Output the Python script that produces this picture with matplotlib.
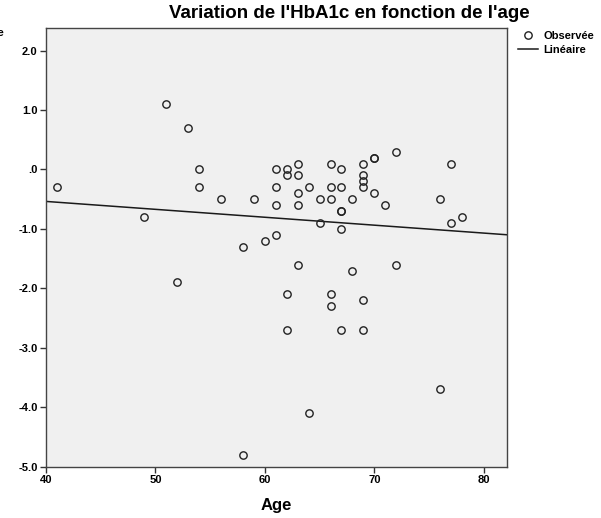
import numpy as np
import matplotlib
matplotlib.use("Agg")
import matplotlib.pyplot as plt
from matplotlib.lines import Line2D

plt.rcParams['font.family'] = ['Liberation Sans', 'DejaVu Sans']

ages = [41, 49, 51, 52, 53, 54, 54, 56, 58, 58, 59, 60, 61, 61, 61, 61,
        62, 62, 62, 62, 63, 63, 63, 63, 63, 64, 64, 65, 65, 66, 66, 66, 66, 66,
        67, 67, 67, 67, 67, 67, 68, 68, 69, 69, 69, 69, 69, 69, 70, 70, 70, 71,
        72, 72, 76, 76, 77, 77, 78]
variation = [-0.3, -0.8, 1.1, -1.9, 0.7, 0.0, -0.3, -0.5, -1.3, -4.8, -0.5, -1.2,
             0.0, -0.3, -0.6, -1.1, 0.0, -0.1, -2.1, -2.7, 0.1, -0.1, -0.4, -0.6, -1.6,
             -0.3, -4.1, -0.5, -0.9, 0.1, -0.3, -0.5, -2.1, -2.3,
             0.0, -0.3, -0.7, -0.7, -1.0, -2.7, -0.5, -1.7, 0.1, -0.1, -0.2, -0.3, -2.2, -2.7,
             0.2, 0.2, -0.4, -0.6, 0.3, -1.6, -0.5, -3.7, 0.1, -0.9, -0.8]

x_ticks = [40, 50, 60, 70, 80]
y_ticks = [2.0, 1.0, 0.0, -1.0, -2.0, -3.0, -4.0, -5.0]
y_tick_labels = ["2.0", "1.0", ".0", "-1.0", "-2.0", "-3.0", "-4.0", "-5.0"]

title = "Variation de l'HbA1c en fonction de l'age"
legend_labels = ["Observée", "Linéaire"]

fig = plt.figure(figsize=(6.01, 5.18), dpi=100)
ax = fig.add_axes([0.0765, 0.099, 0.7666, 0.847])
ax.set_facecolor('#f0f0f0')

xlim = (40, 82.1)
slope, intercept = np.polyfit(ages, variation, 1)
xs = np.array(xlim)
ax.plot(xs, intercept + slope * xs, color='#1a1a1a', lw=1.1, zorder=2)
ax.plot(ages, variation, 'o', mfc='none', mec='#222222', ms=5.3, mew=1.0, zorder=3)

ax.set_xlim(*xlim)
ax.set_ylim(-5.0, 2.38)
ax.set_xticks(x_ticks)
ax.set_xticklabels([str(t) for t in x_ticks])
ax.set_yticks(y_ticks)
ax.set_yticklabels(y_tick_labels)
for lab in ax.get_xticklabels() + ax.get_yticklabels():
    lab.set_fontweight('bold')
    lab.set_fontsize(8)
ax.tick_params(direction='out', length=4, width=1, color='#333333', pad=2)
for s in ax.spines.values():
    s.set_color('#444444')
    s.set_linewidth(1.0)

ax.set_xlabel("Age", fontsize=12, fontweight='bold', labelpad=9)

fig.text(349 / 601, 1 - 14 / 518, title, ha='center', va='center',
         fontsize=13.5, fontweight='bold')

# clipped vertical-axis caption (only the end of its last letter is visible)
fig.text(3.5 / 601, 1 - 33 / 518, "Variation de la glycémie", ha='right', va='center',
         fontsize=8, fontweight='bold')

handles = [Line2D([], [], ls='none', marker='o', mfc='none', mec='#222222', ms=5.3, mew=1.0),
           Line2D([], [], color='#1a1a1a', lw=1.1)]
fig.legend(handles, legend_labels, loc='upper left', bbox_to_anchor=(518 / 601, 1 - 31 / 518),
           frameon=False, prop={'weight': 'bold', 'size': 8}, handlelength=1.8,
           handletextpad=0.5, borderaxespad=0, labelspacing=0.35, borderpad=0)

fig.savefig("out.png", dpi=100)
